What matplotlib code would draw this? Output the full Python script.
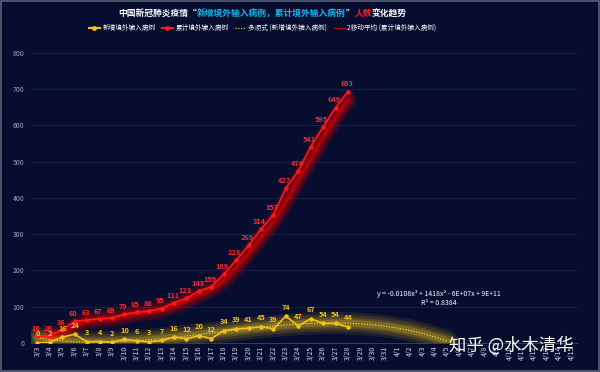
import numpy as np
import pandas as pd
import matplotlib
matplotlib.use('Agg')
import matplotlib.pyplot as plt
from matplotlib.lines import Line2D

plt.rcParams['font.family'] = ['Noto Sans CJK SC', 'DejaVu Sans']

dates = ['3/%d' % d for d in range(3, 32)] + ['4/%d' % d for d in range(1, 16)]
new_cases = [0, 2, 16, 24, 3, 4, 2, 10, 6, 3, 7, 16, 12, 20, 12, 34, 39, 41, 45, 39,
             74, 47, 67, 54, 54, 44]
total_cases = [18, 20, 36, 60, 63, 67, 69, 79, 85, 88, 95, 111, 123, 143, 155, 189,
               228, 269, 314, 353, 427, 474, 541, 595, 649, 693]
equation = 'y = -0.0108x³ + 1418x² - 6E+07x + 9E+11'
r2_text = 'R² = 0.8384'

BG = '#060d2e'
YEL = '#f2c21b'
RED = '#ff1a1a'

x_all = np.arange(len(dates))
n = len(new_cases)
x = np.arange(n)

# cubic trendline for new cases, forecast forward 8 periods
coef = np.polyfit(x, new_cases, 3)
x_tr = np.linspace(0, n - 1 + 8, 200)
y_tr = np.clip(np.polyval(coef, x_tr), 0, None)

# 2-period moving average of cumulative
ma = pd.Series(total_cases).rolling(2).mean().values

fig = plt.figure(figsize=(6, 3.72), dpi=100, facecolor=BG)
ax = fig.add_axes([0.052, 0.078, 0.911, 0.78])
ax.set_facecolor(BG)

# glow for trend lines
for lw, a in [(16, 0.10), (12, 0.14), (8, 0.18), (5, 0.25)]:
    ax.plot(x_tr, y_tr, color=YEL, lw=lw, alpha=a, solid_capstyle='round', zorder=2)
    ax.plot(x, ma, color='#e00000', lw=lw * 0.8, alpha=a + 0.05, solid_capstyle='round', zorder=2)
ax.plot(x_tr, y_tr, color='#ffe070', lw=0.8, ls=(0, (1, 1.5)), zorder=3)
ax.plot(x, ma, color='#c00000', lw=1.2, zorder=3)

ax.plot(x, new_cases, color=YEL, lw=1.2, marker='o', ms=2.2, zorder=4)
ax.plot(x, total_cases, color=RED, lw=1.2, marker='o', ms=2.2, zorder=5)

for xi, v in zip(x, new_cases):
    ax.annotate(str(v), (xi, v), xytext=(0, 4), textcoords='offset points',
                ha='center', va='bottom', fontsize=5.3, color=YEL, fontweight='bold', zorder=6)
for xi, v in zip(x, total_cases):
    ax.annotate(str(v), (xi, v), xytext=(-1, 3), textcoords='offset points',
                ha='center', va='bottom', fontsize=5.3, color='#ff2a2a', fontweight='bold', zorder=6)

ax.text(32.3, 124, equation, ha='center', va='bottom', fontsize=5, color='white', zorder=6)
ax.text(32.3, 120, r2_text, ha='center', va='top', fontsize=5, color='white', zorder=6)

ax.set_xlim(-0.5, len(dates) - 0.5)
ax.set_ylim(0, 800)
ax.set_yticks(range(0, 801, 100))
ax.set_xticks(x_all)
ax.set_xticklabels(dates, rotation=90, fontsize=5, color='#d8dcea')
ax.tick_params(axis='y', labelsize=5, colors='#9aa3c0', length=0, pad=5)
ax.tick_params(axis='x', length=0, pad=2)
ax.grid(axis='y', color='#1a2450', lw=0.6)
ax.set_axisbelow(True)
for s in ['top', 'right', 'left']:
    ax.spines[s].set_visible(False)
ax.spines['bottom'].set_color('#3a4468')
ax.spines['bottom'].set_linewidth(0.6)

# title with coloured parts
parts = [('中国新冠肺炎疫情“', 'white'), ('新增境外输入病例，累计境外输入病例', '#19b6ea'),
         ('”', 'white'), ('人数', '#ff1a1a'), ('变化趋势', 'white')]
renderer = fig.canvas.get_renderer()
widths = []
texts = []
for s, c in parts:
    t = fig.text(0, 0.963, s, color=c, fontsize=6.3, fontweight='bold', ha='left', va='center')
    texts.append(t)
    widths.append(t.get_window_extent(renderer).width / fig.bbox.width)
xpos = 0.438 - sum(widths) / 2
for t, w in zip(texts, widths):
    t.set_x(xpos)
    xpos += w

handles = [
    Line2D([], [], color=YEL, lw=1.5, marker='o', ms=2.5),
    Line2D([], [], color=RED, lw=1.5, marker='o', ms=2.5),
    Line2D([], [], color='#ffe070', lw=0.8, ls=(0, (1, 1.5))),
    Line2D([], [], color='#c00000', lw=0.8),
]
labels = ['新增境外输入病例', '累计境外输入病例', '多项式 (新增境外输入病例)', '2移动平均 (累计境外输入病例)']
leg = fig.legend(handles, labels, loc='center', bbox_to_anchor=(0.438, 0.925), ncol=4,
                 frameon=False, fontsize=4.8, handlelength=1.6, columnspacing=1.0,
                 handletextpad=0.4)
for t in leg.get_texts():
    t.set_color('white')

# watermark
fig.text(0.853, 0.072, '知乎 @水木清华', fontsize=12.5, color='white', ha='center', va='center', zorder=10)

fig.patches.append(plt.Rectangle((0.002, 0.003), 0.996, 0.994, transform=fig.transFigure,
                                 fill=False, edgecolor='#5a6078', lw=1.2))

fig.savefig('out.png', dpi=100, facecolor=BG)
